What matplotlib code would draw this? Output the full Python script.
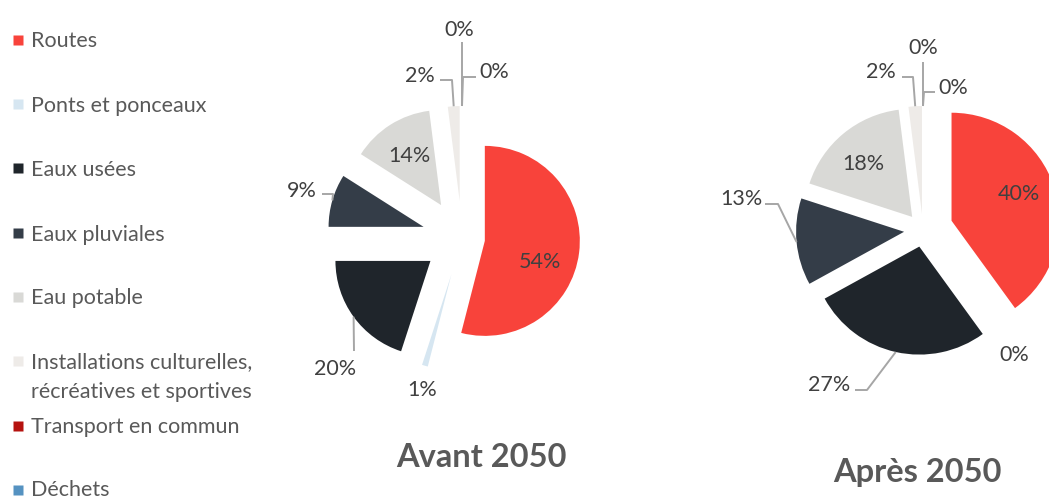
import math
import matplotlib.pyplot as plt

plt.rcParams['font.family'] = ['Lato', 'DejaVu Sans']

W, H = 1049, 498

categories = [
    "Routes",
    "Ponts et ponceaux",
    "Eaux usées",
    "Eaux pluviales",
    "Eau potable",
    "Installations culturelles,\nrécréatives et sportives",
    "Transport en commun",
    "Déchets",
]
colors = ["#F8433B", "#D6E6F1", "#1F252B", "#343D48",
          "#D9D9D6", "#EEEBE8", "#B5120F", "#5592C1"]

avant_2050 = [54, 1, 20, 9, 14, 2, 0, 0]
apres_2050 = [40, 0, 27, 13, 18, 2, 0, 0]
titles = ["Avant 2050", "Après 2050"]

# legend rows: marker centre y, text baseline y (pixels from top)
legend_rows = [(40, 47), (104, 112), (168, 176), (233, 241),
               (297, 304), (361, 368), (426, 433), (490, 496)]

# pie layout in pixels from top-left: centre, radius, explode per slice
pies = [
    dict(values=avant_2050, title=titles[0], title_pos=(481, 467),
         center=(462, 238), r=95,
         explode=[23, 38, 39, 40, 39, 37, 37, 37],
         labels={0: ((540, 268), None),
                 1: ((422, 396), None),
                 2: ((335, 375), [(354, 351)]),
                 3: ((302, 197), [(322, 194), (333, 194)]),
                 4: ((409, 162), None),
                 5: ((420, 82), [(440, 80), (452, 80)]),
                 6: ((459, 36), [(462, 42)]),
                 7: ((494, 78), [(476, 77), (463, 77)])}),
    dict(values=apres_2050, title=titles[1], title_pos=(917, 482),
         center=(923, 230), r=108,
         explode=[30, 17, 17, 19, 17, 16, 16, 16],
         labels={0: ((1019, 200), None),
                 1: ((1014, 361), None),
                 2: ((829, 391), [(855, 390), (867, 390)]),
                 3: ((741, 205), [(765, 204), (778, 204)]),
                 4: ((863, 170), None),
                 5: ((881, 78), [(902, 77), (913, 77)]),
                 6: ((923, 54), [(923, 62)]),
                 7: ((953, 94), [(935, 92), (924, 92)])}),
]


def flip(p):
    return p[0], H - p[1]


fig = plt.figure(figsize=(W / 100, H / 100), dpi=100)
ax = fig.add_axes([0, 0, 1, 1])

for spec in pies:
    wedges, _ = ax.pie(spec["values"], colors=colors, startangle=90,
                       counterclock=False, explode=spec["explode"],
                       radius=spec["r"], center=flip(spec["center"]),
                       wedgeprops=dict(linewidth=0))
    for i, w in enumerate(wedges):
        (tx, ty), leader = spec["labels"][i]
        ax.text(tx, H - ty, f"{spec['values'][i]:.0f}%", ha="center",
                va="baseline", fontsize=15.5, color="#404040")
        if leader is None:
            continue
        # leader runs from the label to the middle of the slice's outer arc
        mid = math.radians((w.theta1 + w.theta2) / 2)
        end = (w.center[0] + w.r * math.cos(mid),
               w.center[1] + w.r * math.sin(mid))
        pts = [flip(p) for p in leader] + [end]
        ax.plot([p[0] for p in pts], [p[1] for p in pts],
                color="#A6A6A6", lw=1.4, solid_capstyle="butt")
    tx, ty = spec["title_pos"]
    ax.text(tx, H - ty, spec["title"], ha="center", va="baseline",
            fontsize=23.5, fontweight="bold", color="#595959")

# legend
for name, c, (my, ty) in zip(categories, colors, legend_rows):
    ax.plot(18, H - my, "s", ms=7, color=c, mec="none")
    lines = name.split("\n")
    for k, line in enumerate(lines):
        ax.text(31, H - ty - 30 * k, line, ha="left", va="baseline",
                fontsize=15.5, color="#595959")

ax.set_xlim(0, W)
ax.set_ylim(0, H)
ax.set_aspect("equal")
ax.set_axis_off()

fig.savefig("out.png", dpi=100, facecolor="white")
